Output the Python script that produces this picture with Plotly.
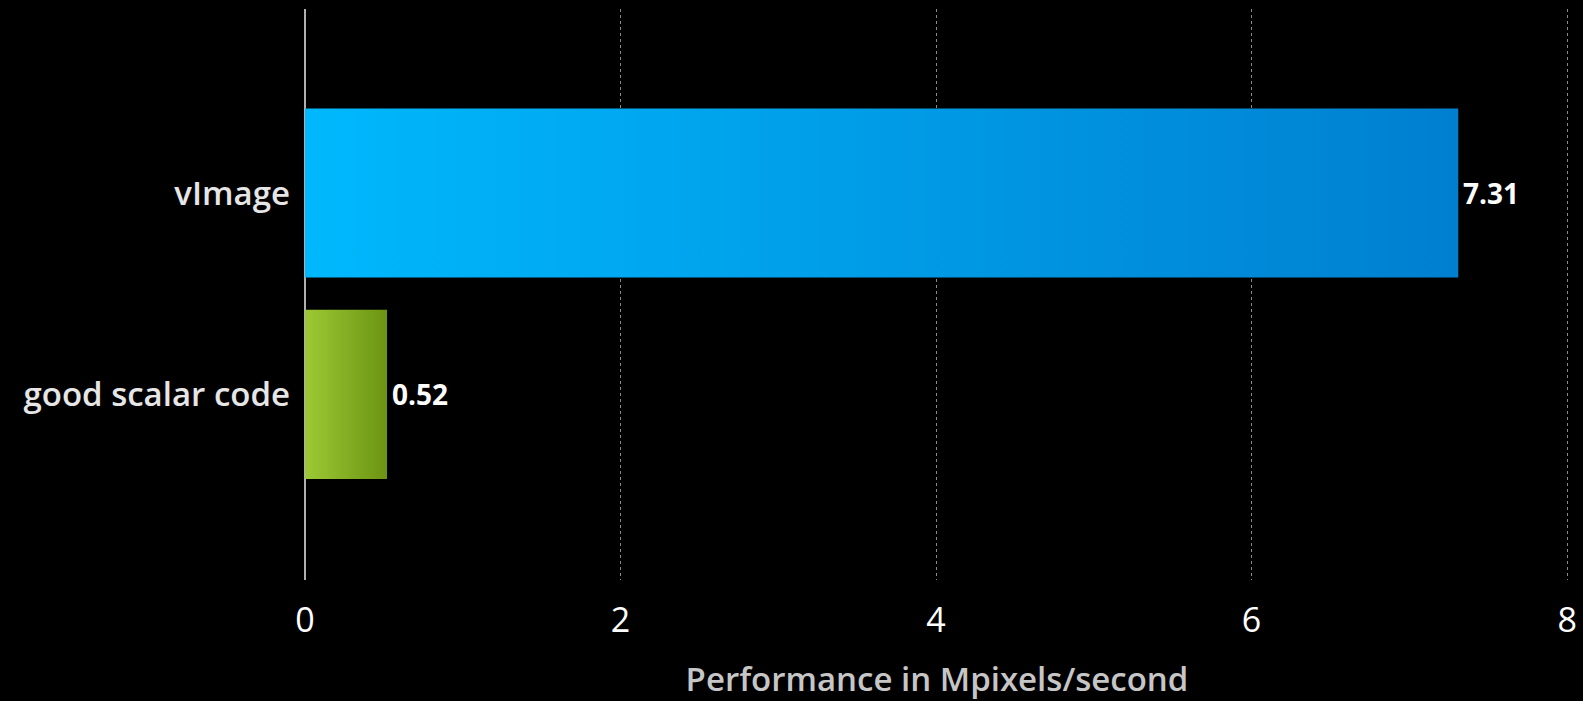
import plotly.graph_objects as go

# Throughput per implementation (Mpixels/second)
categories = ["good scalar code", "vImage"]
values = [0.52, 7.31]
value_labels = ["0.52", "7.31"]
gradients = [
    ["#9dc935", "#6c9412"],   # scalar code: light to dark green
    ["#00b8fd", "#007fd0"],   # vImage: light to dark blue
]
x_ticks = [0, 2, 4, 6, 8]
x_tick_labels = ["0", "2", "4", "6", "8"]
axis_title = "Performance in Mpixels/second"

FONT = "Open Sans"
HALF = 0.42  # half bar thickness in category units

fig = go.Figure()

for i, (v, (c0, c1)) in enumerate(zip(values, gradients)):
    fig.add_trace(go.Scatter(
        x=[0, v, v, 0, 0],
        y=[i - HALF, i - HALF, i + HALF, i + HALF, i - HALF],
        mode="lines",
        line=dict(width=0),
        fill="toself",
        fillgradient=dict(type="horizontal", colorscale=[[0, c0], [1, c1]]),
        hoverinfo="skip",
        showlegend=False,
    ))
    fig.add_annotation(
        x=v, y=i, text=value_labels[i],
        xanchor="left", yanchor="middle", xshift=3, showarrow=False,
        font=dict(family=FONT, size=28, color="#ffffff", weight=700),
    )

fig.update_layout(
    width=1583, height=701,
    paper_bgcolor="#000000", plot_bgcolor="#000000",
    margin=dict(l=305, r=6, t=9, b=121),
    showlegend=False,
    font=dict(family=FONT, color="#ffffff"),
)

fig.update_xaxes(
    range=[0, 8.012],
    tickvals=x_ticks, ticktext=x_tick_labels,
    tickfont=dict(family=FONT, size=34, color="#ffffff", weight=500),
    ticklabeloverflow="allow",
    ticks="outside", ticklen=10, tickcolor="rgba(0,0,0,0)",
    showgrid=True, gridcolor="#8a8a8a", gridwidth=1, griddash="dot",
    zeroline=True, zerolinecolor="#b0b0b0", zerolinewidth=1.5,
    showline=False,
    title=dict(text=axis_title, standoff=29,
               font=dict(family=FONT, size=33, color="#c6c6c6", weight=600)),
)

fig.update_yaxes(
    range=[-0.922, 1.914],
    tickvals=list(range(len(categories))), ticktext=categories,
    tickfont=dict(family=FONT, size=33, color="#e6e6e6", weight=600),
    ticklabelstandoff=14,
    showgrid=False, zeroline=False, showline=False,
)

fig.write_html("out.html")
